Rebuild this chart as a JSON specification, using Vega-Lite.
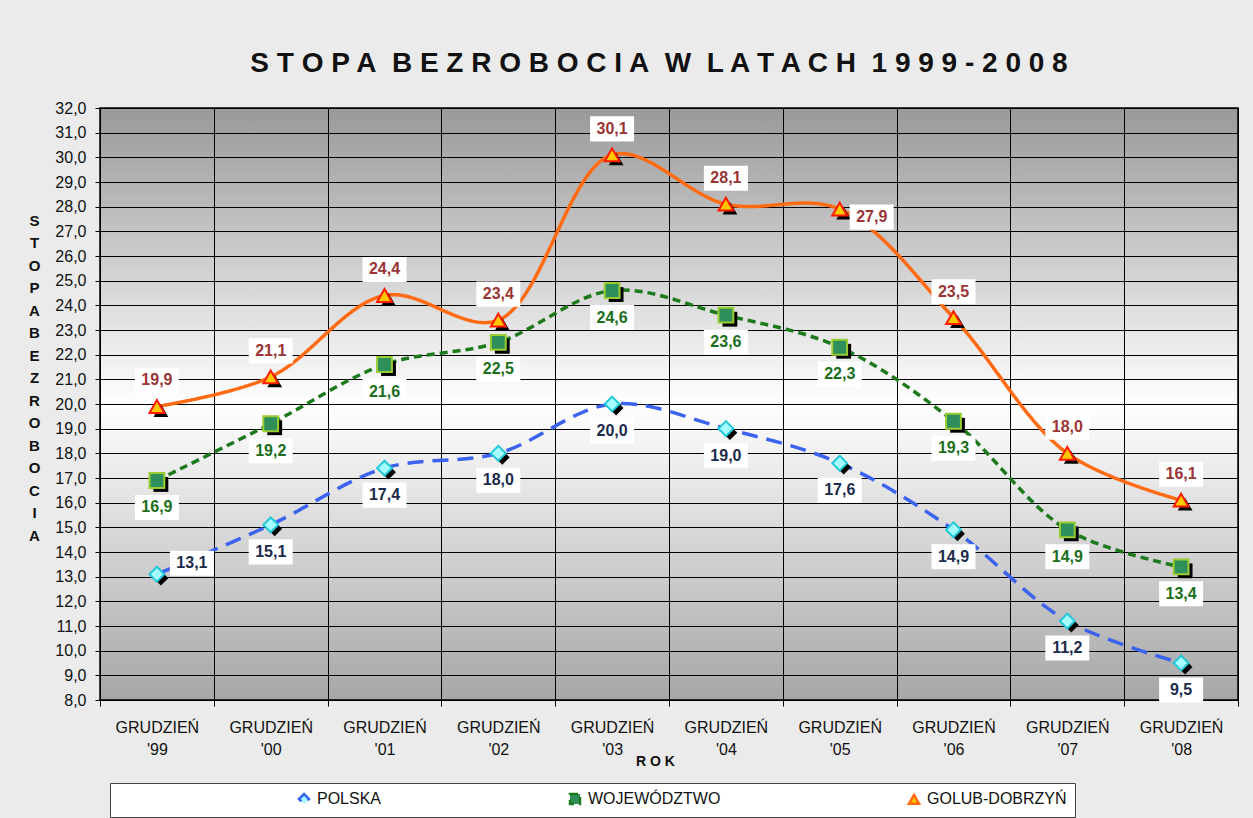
{
  "$schema": "https://vega.github.io/schema/vega-lite/v6.json",
  "width": 1138,
  "height": 592,
  "autosize": {"type": "none"},
  "padding": {"left": 100, "top": 108, "right": 15, "bottom": 118},
  "background": "#ebebeb",
  "title": {
    "text": "S T O P A\u00a0 B E Z R O B O C I A\u00a0 W\u00a0 L A T A C H\u00a0 1 9 9 9 - 2 0 0 8",
    "font": "Liberation Sans",
    "fontSize": 28,
    "fontWeight": "bold",
    "color": "#111111",
    "anchor": "middle",
    "frame": "group",
    "dx": -10,
    "offset": 22
  },
  "data": {
    "values": [
      {"rok": "GRUDZIEŃ '99", "seria": "POLSKA", "v": 13.1},
      {"rok": "GRUDZIEŃ '00", "seria": "POLSKA", "v": 15.1},
      {"rok": "GRUDZIEŃ '01", "seria": "POLSKA", "v": 17.4},
      {"rok": "GRUDZIEŃ '02", "seria": "POLSKA", "v": 18.0},
      {"rok": "GRUDZIEŃ '03", "seria": "POLSKA", "v": 20.0},
      {"rok": "GRUDZIEŃ '04", "seria": "POLSKA", "v": 19.0},
      {"rok": "GRUDZIEŃ '05", "seria": "POLSKA", "v": 17.6},
      {"rok": "GRUDZIEŃ '06", "seria": "POLSKA", "v": 14.9},
      {"rok": "GRUDZIEŃ '07", "seria": "POLSKA", "v": 11.2},
      {"rok": "GRUDZIEŃ '08", "seria": "POLSKA", "v": 9.5},
      {"rok": "GRUDZIEŃ '99", "seria": "WOJEWÓDZTWO", "v": 16.9},
      {"rok": "GRUDZIEŃ '00", "seria": "WOJEWÓDZTWO", "v": 19.2},
      {"rok": "GRUDZIEŃ '01", "seria": "WOJEWÓDZTWO", "v": 21.6},
      {"rok": "GRUDZIEŃ '02", "seria": "WOJEWÓDZTWO", "v": 22.5},
      {"rok": "GRUDZIEŃ '03", "seria": "WOJEWÓDZTWO", "v": 24.6},
      {"rok": "GRUDZIEŃ '04", "seria": "WOJEWÓDZTWO", "v": 23.6},
      {"rok": "GRUDZIEŃ '05", "seria": "WOJEWÓDZTWO", "v": 22.3},
      {"rok": "GRUDZIEŃ '06", "seria": "WOJEWÓDZTWO", "v": 19.3},
      {"rok": "GRUDZIEŃ '07", "seria": "WOJEWÓDZTWO", "v": 14.9},
      {"rok": "GRUDZIEŃ '08", "seria": "WOJEWÓDZTWO", "v": 13.4},
      {"rok": "GRUDZIEŃ '99", "seria": "GOLUB-DOBRZYŃ", "v": 19.9},
      {"rok": "GRUDZIEŃ '00", "seria": "GOLUB-DOBRZYŃ", "v": 21.1},
      {"rok": "GRUDZIEŃ '01", "seria": "GOLUB-DOBRZYŃ", "v": 24.4},
      {"rok": "GRUDZIEŃ '02", "seria": "GOLUB-DOBRZYŃ", "v": 23.4},
      {"rok": "GRUDZIEŃ '03", "seria": "GOLUB-DOBRZYŃ", "v": 30.1},
      {"rok": "GRUDZIEŃ '04", "seria": "GOLUB-DOBRZYŃ", "v": 28.1},
      {"rok": "GRUDZIEŃ '05", "seria": "GOLUB-DOBRZYŃ", "v": 27.9},
      {"rok": "GRUDZIEŃ '06", "seria": "GOLUB-DOBRZYŃ", "v": 23.5},
      {"rok": "GRUDZIEŃ '07", "seria": "GOLUB-DOBRZYŃ", "v": 18.0},
      {"rok": "GRUDZIEŃ '08", "seria": "GOLUB-DOBRZYŃ", "v": 16.1}
    ]
  },
  "encoding": {
    "x": {
      "field": "rok",
      "type": "ordinal",
      "sort": null,
      "scale": {"type": "band", "paddingInner": 0, "paddingOuter": 0},
      "axis": {
        "tickBand": "extent",
        "grid": true,
        "gridColor": "#000000",
        "gridOpacity": 1,
        "gridWidth": 1,
        "domainColor": "#000000",
        "tickColor": "#000000",
        "tickSize": 6,
        "labelAngle": 0,
        "labelExpr": "split(datum.label, ' ')",
        "labelFont": "Liberation Sans",
        "labelFontSize": 16,
        "labelLineHeight": 22,
        "labelPadding": 13,
        "labelColor": "#111111",
        "title": "R O K",
        "titleFont": "Liberation Sans",
        "titleFontSize": 14,
        "titleFontWeight": "bold",
        "titleColor": "#111111",
        "titleX": 555,
        "titleY": 61,
        "titleBaseline": "middle"
      }
    },
    "y": {
      "field": "v",
      "type": "quantitative",
      "scale": {"domain": [8, 32], "nice": false, "zero": false},
      "axis": {
        "values": [8, 9, 10, 11, 12, 13, 14, 15, 16, 17, 18, 19, 20, 21, 22, 23, 24, 25, 26, 27, 28, 29, 30, 31, 32],
        "labelExpr": "replace(format(datum.value, '.1f'), '.', ',')",
        "grid": true,
        "gridColor": "#000000",
        "gridOpacity": 1,
        "gridWidth": 1,
        "domainColor": "#000000",
        "tickColor": "#000000",
        "tickSize": 5,
        "labelFont": "Liberation Sans",
        "labelFontSize": 16,
        "labelColor": "#111111",
        "labelPadding": 9,
        "title": ["S", "T", "O", "P", "A", " ", "B", "E", "Z", "R", "O", "B", "O", "C", "I", "A"],
        "titleFont": "Liberation Sans",
        "titleFontSize": 15,
        "titleFontWeight": "bold",
        "titleColor": "#111111",
        "titleAngle": 0,
        "titleAlign": "center",
        "titleBaseline": "middle",
        "titleLineHeight": 22.5,
        "titleX": -66,
        "titleY": 112
      }
    }
  },
  "layer": [
    {
      "mark": {"type": "line", "interpolate": "catmull-rom", "strokeWidth": 3.5},
      "encoding": {
        "color": {
          "field": "seria",
          "type": "nominal",
          "scale": {"domain": ["POLSKA", "WOJEWÓDZTWO", "GOLUB-DOBRZYŃ"], "range": ["#3b63ee", "#1c7a1c", "#ff6a12"]},
          "legend": {
            "orient": "none",
            "legendX": 10,
            "legendY": 675,
            "direction": "horizontal",
            "columns": 3,
            "title": "\u00a0",
            "titleOrient": "left",
            "titleFontSize": 16,
            "titlePadding": 178,
            "fillColor": "#ffffff",
            "strokeColor": "#444444",
            "padding": 8,
            "columnPadding": 183,
            "labelFont": "Liberation Sans",
            "labelFontSize": 16,
            "labelColor": "#111111",
            "labelOffset": 5,
            "symbolSize": 100,
            "symbolStrokeWidth": 2.5,
            "encode": {
              "symbols": {
                "update": {
                  "size": {"value": 100},
                  "shape": {"signal": "datum.value === 'POLSKA' ? 'M-38,0M-8,0L-4.7,0M-2.3,0L1,0M-3.5,-1.2L-2.3,0L-3.5,1.2L-4.7,0Z' : datum.value === 'WOJEWÓDZTWO' ? 'M-8,0L-7,0M-6.4,0L-5.4,0M-1.6,0L-0.6,0M0,0L1,0M-4.6,-1.1L-2.4,-1.1L-2.4,1.1L-4.6,1.1Z' : 'M58.4,0M-8,0L-4.6,0M-2.4,0L1,0M-3.5,-1.3L-2.3,0.8L-4.7,0.8Z'"},
                  "fill": {"signal": "datum.value === 'POLSKA' ? '#9ffcff' : datum.value === 'WOJEWÓDZTWO' ? '#3a9a4a' : '#ffcc00'"},
                  "fillOpacity": {"value": 1},
                  "strokeDash": {"value": []}
                }
              }
            }
          }
        },
        "strokeDash": {
          "field": "seria",
          "type": "nominal",
          "scale": {"domain": ["POLSKA", "WOJEWÓDZTWO", "GOLUB-DOBRZYŃ"], "range": [[16, 9], [8, 5], [1, 0]]},
          "legend": null
        }
      }
    },
    {
      "mark": {"type": "point", "filled": true, "size": 220, "xOffset": 4, "yOffset": 4, "opacity": 1, "color": "#000000"},
      "encoding": {
        "shape": {
          "field": "seria",
          "type": "nominal",
          "scale": {"domain": ["POLSKA", "WOJEWÓDZTWO", "GOLUB-DOBRZYŃ"], "range": ["diamond", "square", "triangle-up"]},
          "legend": null
        }
      }
    },
    {
      "mark": {"type": "point", "filled": true, "size": 220, "opacity": 1, "strokeWidth": 2},
      "encoding": {
        "shape": {
          "field": "seria",
          "type": "nominal",
          "scale": {"domain": ["POLSKA", "WOJEWÓDZTWO", "GOLUB-DOBRZYŃ"], "range": ["diamond", "square", "triangle-up"]},
          "legend": null
        },
        "fill": {
          "field": "seria",
          "type": "nominal",
          "scale": {"domain": ["POLSKA", "WOJEWÓDZTWO", "GOLUB-DOBRZYŃ"], "range": ["#a6fdff", "#2f8f5a", "#ffc800"]},
          "legend": null
        },
        "stroke": {
          "field": "seria",
          "type": "nominal",
          "scale": {"domain": ["POLSKA", "WOJEWÓDZTWO", "GOLUB-DOBRZYŃ"], "range": ["#22c8d8", "#9acd32", "#ff1a00"]},
          "legend": null
        }
      }
    },
    {
      "transform": [{"filter": "datum.seria === 'GOLUB-DOBRZYŃ' && datum.v !== 27.9"}],
      "layer": [
        {"mark": {"type": "point", "shape": "M-1,-0.57L1,-0.57L1,0.57L-1,0.57Z", "filled": true, "color": "#ffffff", "opacity": 1, "size": 1936, "yOffset": -26}},
        {"mark": {"type": "text", "font": "Liberation Sans", "fontWeight": "bold", "fontSize": 16, "color": "#9b3535", "baseline": "middle", "yOffset": -26},
         "encoding": {"text": {"field": "v", "type": "quantitative", "format": ".1f"}}}
      ]
    },
    {
      "transform": [{"filter": "datum.seria === 'GOLUB-DOBRZYŃ' && datum.v === 27.9"}],
      "layer": [
        {"mark": {"type": "point", "shape": "M-1,-0.57L1,-0.57L1,0.57L-1,0.57Z", "filled": true, "color": "#ffffff", "opacity": 1, "size": 1936, "xOffset": 32, "yOffset": 8}},
        {"mark": {"type": "text", "font": "Liberation Sans", "fontWeight": "bold", "fontSize": 16, "color": "#9b3535", "baseline": "middle", "xOffset": 32, "yOffset": 8},
         "encoding": {"text": {"field": "v", "type": "quantitative", "format": ".1f"}}}
      ]
    },
    {
      "transform": [{"filter": "datum.seria === 'WOJEWÓDZTWO'"}],
      "layer": [
        {"mark": {"type": "point", "shape": "M-1,-0.57L1,-0.57L1,0.57L-1,0.57Z", "filled": true, "color": "#ffffff", "opacity": 1, "size": 1936, "yOffset": 27}},
        {"mark": {"type": "text", "font": "Liberation Sans", "fontWeight": "bold", "fontSize": 16, "color": "#1b6e1b", "baseline": "middle", "yOffset": 27},
         "encoding": {"text": {"field": "v", "type": "quantitative", "format": ".1f"}}}
      ]
    },
    {
      "transform": [{"filter": "datum.seria === 'POLSKA' && datum.v !== 13.1"}],
      "layer": [
        {"mark": {"type": "point", "shape": "M-1,-0.57L1,-0.57L1,0.57L-1,0.57Z", "filled": true, "color": "#ffffff", "opacity": 1, "size": 1936, "yOffset": 27}},
        {"mark": {"type": "text", "font": "Liberation Sans", "fontWeight": "bold", "fontSize": 16, "color": "#1c2b4c", "baseline": "middle", "yOffset": 27},
         "encoding": {"text": {"field": "v", "type": "quantitative", "format": ".1f"}}}
      ]
    },
    {
      "transform": [{"filter": "datum.seria === 'POLSKA' && datum.v === 13.1"}],
      "layer": [
        {"mark": {"type": "point", "shape": "M-1,-0.57L1,-0.57L1,0.57L-1,0.57Z", "filled": true, "color": "#ffffff", "opacity": 1, "size": 1936, "xOffset": 35, "yOffset": -11}},
        {"mark": {"type": "text", "font": "Liberation Sans", "fontWeight": "bold", "fontSize": 16, "color": "#1c2b4c", "baseline": "middle", "xOffset": 35, "yOffset": -11},
         "encoding": {"text": {"field": "v", "type": "quantitative", "format": ".1f"}}}
      ]
    }
  ],
  "config": {
    "locale": {"number": {"decimal": ",", "thousands": "\u00a0", "grouping": [3], "currency": ["", " zł"]}},
    "font": "Liberation Sans",
    "view": {
      "stroke": "#000000",
      "strokeWidth": 1.5,
      "fill": {
        "gradient": "linear",
        "x1": 0, "y1": 0, "x2": 0, "y2": 1,
        "stops": [
          {"offset": 0, "color": "#999999"},
          {"offset": 0.5, "color": "#ffffff"},
          {"offset": 1, "color": "#a6a6a6"}
        ]
      }
    }
  }
}
